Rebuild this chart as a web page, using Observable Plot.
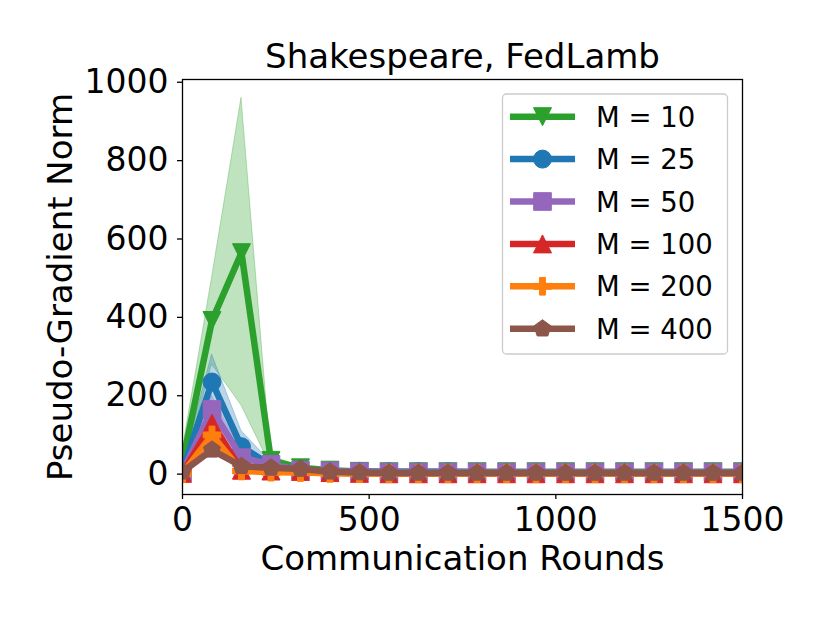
<!DOCTYPE html>
<html>
<head>
<meta charset="utf-8">
<script src="https://cdn.jsdelivr.net/npm/d3@7"></script>
<script src="https://cdn.jsdelivr.net/npm/@observablehq/plot@0.6"></script>
<style>
  body { margin: 0; background: #ffffff; }
  #wrap { position: relative; width: 830px; height: 623px; background: #ffffff; }
  #legend { position: absolute; left: 0; top: 0; }
</style>
</head>
<body>
<div id="wrap"></div>
<script>
// ---- data ----
const rounds = [0, 79, 158, 237, 316, 395, 474, 553, 632, 711, 789, 868, 947, 1026, 1105, 1184, 1263, 1342, 1421, 1500];
const seriesLabels = ["M = 10", "M = 25", "M = 50", "M = 100", "M = 200", "M = 400"];
const seriesColors = ["#2ca02c", "#1f77b4", "#9467bd", "#d62728", "#ff7f0e", "#8c564b"];
const xTicks = [0, 500, 1000, 1500];
const yTicks = [0, 200, 400, 600, 800, 1000];
const titleText = "Shakespeare, FedLamb";
const xLabel = "Communication Rounds";
const yLabel = "Pseudo-Gradient Norm";

const m10   = [30, 392, 565, 35, 16, 10, 7, 6, 6, 6, 6, 6, 6, 6, 6, 6, 6, 6, 6, 6];
const m10Lo = [0, 280, 175, 20, 12, 8, 5, 4, 4, 4, 4, 4, 4, 4, 4, 4, 4, 4, 4, 4];
const m10Hi = [60, 500, 960, 45, 21, 13, 9, 8, 8, 8, 8, 8, 8, 8, 8, 8, 8, 8, 8, 8];

const m25   = [10, 235, 70, 22, 12, 8, 7, 6, 6, 6, 5, 5, 5, 5, 5, 5, 5, 5, 5, 5];
const m25Lo = [2, 175, 55, 15, 9, 6, 5, 4, 4, 4, 4, 4, 4, 4, 4, 4, 4, 4, 4, 4];
const m25Hi = [20, 305, 110, 30, 15, 10, 9, 8, 8, 8, 7, 7, 7, 7, 7, 7, 7, 7, 7, 7];

const m50   = [5, 165, 42, 25, 10, 8, 6, 5, 5, 5, 5, 5, 5, 5, 5, 5, 5, 5, 5, 5];
const m50Lo = [0, 130, 30, 18, 7, 6, 4, 3, 3, 3, 3, 3, 3, 3, 3, 3, 3, 3, 3, 3];
const m50Hi = [12, 200, 55, 32, 13, 10, 8, 7, 7, 7, 7, 7, 7, 7, 7, 7, 7, 7, 7, 7];

const m100   = [2, 130, 10, 8, 7, 4, 2, 1, 1, 1, 1, 1, 1, 1, 1, 1, 1, 1, 1, 1];
const m100Lo = [-3, 105, 5, 5, 4, 2, 0, -1, -1, -1, -1, -1, -1, -1, -1, -1, -1, -1, -1, -1];
const m100Hi = [8, 155, 16, 12, 10, 6, 4, 3, 3, 3, 3, 3, 3, 3, 3, 3, 3, 3, 3, 3];

const m200   = [2, 100, 8, 5, 4, 2, 1, 1, 1, 1, 1, 1, 1, 1, 1, 1, 1, 1, 1, 1];
const m200Lo = [-2, 75, 4, 3, 2, 0, -1, -1, -1, -1, -1, -1, -1, -1, -1, -1, -1, -1, -1, -1];
const m200Hi = [6, 125, 12, 8, 6, 4, 3, 3, 3, 3, 3, 3, 3, 3, 3, 3, 3, 3, 3, 3];

const m400   = [6, 62, 20, 16, 13, 6, 4, 3, 3, 3, 3, 3, 3, 3, 3, 3, 3, 3, 3, 3];
const m400Lo = [2, 50, 15, 12, 10, 4, 2, 2, 2, 2, 2, 2, 2, 2, 2, 2, 2, 2, 2, 2];
const m400Hi = [10, 75, 25, 20, 16, 8, 6, 5, 5, 5, 5, 5, 5, 5, 5, 5, 5, 5, 5, 5];

const means = [m10, m25, m50, m100, m200, m400];
const lows  = [m10Lo, m25Lo, m50Lo, m100Lo, m200Lo, m400Lo];
const highs = [m10Hi, m25Hi, m50Hi, m100Hi, m200Hi, m400Hi];

// ---- marker symbols (matplotlib v, o, s, ^, P, p) ----
const rOf = size => Math.sqrt(size / Math.PI);
const triDown = {draw(c, s) { const r = rOf(s); c.moveTo(0, r); c.lineTo(-r, -r); c.lineTo(r, -r); c.closePath(); }};
const triUp   = {draw(c, s) { const r = rOf(s); c.moveTo(0, -r); c.lineTo(-r, r); c.lineTo(r, r); c.closePath(); }};
const circ    = {draw(c, s) { const r = rOf(s) * 1.0; c.moveTo(r, 0); c.arc(0, 0, r, 0, 2 * Math.PI); c.closePath(); }};
const sq      = {draw(c, s) { const h = rOf(s) * 0.98; c.moveTo(-h, -h); c.lineTo(h, -h); c.lineTo(h, h); c.lineTo(-h, h); c.closePath(); }};
const plusF   = {draw(c, s) { const a = rOf(s) * 0.98, t = a / 3;
  const pts = [[-t,-a],[t,-a],[t,-t],[a,-t],[a,t],[t,t],[t,a],[-t,a],[-t,t],[-a,t],[-a,-t],[-t,-t]];
  c.moveTo(pts[0][0], pts[0][1]); for (const p of pts.slice(1)) c.lineTo(p[0], p[1]); c.closePath(); }};
const penta   = {draw(c, s) { const R = rOf(s) * 1.0;
  for (let k = 0; k < 5; k++) { const ang = -Math.PI / 2 + k * 2 * Math.PI / 5; const x = R * Math.cos(ang), y = R * Math.sin(ang); k ? c.lineTo(x, y) : c.moveTo(x, y); }
  c.closePath(); }};
const symbols = [triDown, circ, sq, triUp, plusF, penta];

// ---- build tables ----
const tables = means.map((m, s) => rounds.map((x, i) => ({x, y: m[i], lo: lows[s][i], hi: highs[s][i], series: seriesLabels[s]})));

const FONT = "DejaVu Sans";
const marks = [];
tables.forEach((t, s) => {
  marks.push(Plot.areaY(t, {x: "x", y1: "lo", y2: "hi", fill: seriesColors[s], fillOpacity: 0.3, stroke: seriesColors[s], strokeOpacity: 0.3, strokeWidth: 1, clip: true}));
});
tables.forEach((t, s) => {
  marks.push(Plot.line(t, {x: "x", y: "y", stroke: seriesColors[s], strokeWidth: 6.5, strokeLinejoin: "round", strokeLinecap: "butt", clip: true}));
  marks.push(Plot.dot(t, {x: "x", y: "y", r: 9, symbol: symbols[s], fill: seriesColors[s], stroke: seriesColors[s], strokeWidth: 1, clip: true}));
});
marks.push(Plot.frame({stroke: "#000000", strokeWidth: 1.3}));
marks.push(Plot.axisX({ticks: xTicks, tickFormat: "d", tickSize: 5, tickPadding: 8, label: null, fontSize: 33, stroke: "#000000", strokeWidth: 1.3}));
marks.push(Plot.axisY({ticks: yTicks, tickFormat: "d", tickSize: 5, tickPadding: 9, label: null, fontSize: 33, stroke: "#000000", strokeWidth: 1.3}));
marks.push(Plot.text([titleText], {text: d => d, frameAnchor: "top", textAnchor: "middle", lineAnchor: "middle", dy: -22, fontSize: 34, fill: "#000000"}));
marks.push(Plot.text([xLabel], {text: d => d, frameAnchor: "bottom", textAnchor: "middle", lineAnchor: "middle", dy: 65, fontSize: 34, fill: "#000000"}));
marks.push(Plot.text([yLabel], {text: d => d, frameAnchor: "left", textAnchor: "middle", lineAnchor: "middle", rotate: -90, dx: -121, fontSize: 34, fill: "#000000"}));

const chart = Plot.plot({
  width: 830,
  height: 623,
  marginLeft: 182,
  marginRight: 88,
  marginTop: 79,
  marginBottom: 129,
  x: {domain: [0, 1500]},
  y: {domain: [-52, 1007]},
  style: {fontFamily: FONT, fontSize: "33px", color: "#000000", background: "#ffffff", overflow: "visible"},
  marks
});
const wrap = document.getElementById("wrap");
wrap.appendChild(chart);

// ---- legend (matplotlib style box) ----
const lg = d3.select(wrap).append("svg").attr("id", "legend").attr("width", 830).attr("height", 623);
lg.append("rect").attr("x", 502.5).attr("y", 94).attr("width", 225).attr("height", 260).attr("rx", 4)
  .attr("fill", "#ffffff").attr("fill-opacity", 0.8).attr("stroke", "#cccccc").attr("stroke-width", 1.3);
seriesLabels.forEach((lab, s) => {
  const cy = 116.7 + s * 42.4;
  const g = lg.append("g");
  g.append("line").attr("x1", 510).attr("x2", 575).attr("y1", cy).attr("y2", cy)
    .attr("stroke", seriesColors[s]).attr("stroke-width", 6.5);
  g.append("path").attr("transform", `translate(542.5,${cy})`)
    .attr("d", d3.symbol(symbols[s], Math.PI * 81)())
    .attr("fill", seriesColors[s]).attr("stroke", seriesColors[s]).attr("stroke-width", 1);
  g.append("text").attr("x", 596).attr("y", cy + 10).attr("font-family", FONT).attr("font-size", 27.5)
    .attr("fill", "#000000").text(lab);
});
</script>
</body>
</html>
